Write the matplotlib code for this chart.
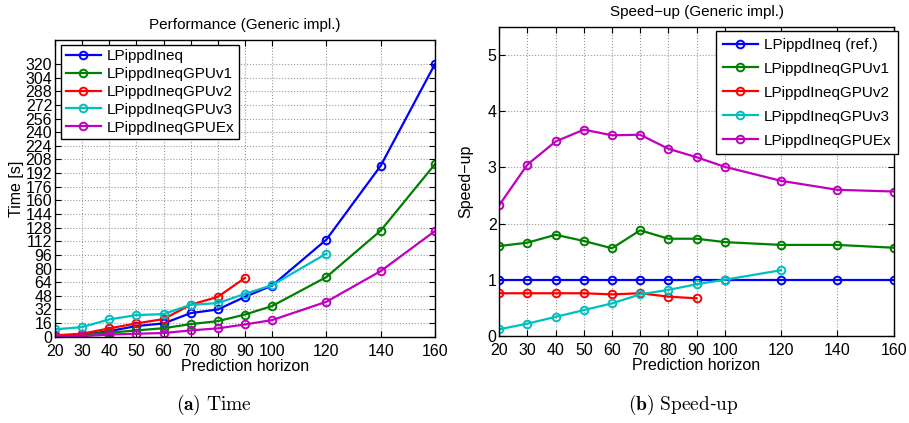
import matplotlib
matplotlib.use("Agg")
import matplotlib.pyplot as plt

plt.rcParams['font.family'] = ['Liberation Sans', 'DejaVu Sans']
plt.rcParams['mathtext.fontset'] = 'cm'

horizon = [20, 30, 40, 50, 60, 70, 80, 90, 100, 120, 140, 160]
x_ticks = [20, 30, 40, 50, 60, 70, 80, 90, 100, 120, 140, 160]
time_ticks = list(range(0, 321, 16))
speed_ticks = [0, 1, 2, 3, 4, 5]

# Time [s]
t_base = [1.0, 2.0, 6.6, 12.5, 15.6, 27.7, 32.0, 46.8, 60.0, 114.0, 200.6, 320.0]
t_v1 = [0.8, 2.7, 4.7, 7.4, 10.0, 14.8, 18.3, 26.0, 36.0, 70.0, 124.5, 202.5]
t_v2 = [1.6, 3.5, 9.8, 15.6, 20.7, 37.5, 46.8, 69.0]
t_v3 = [8.6, 11.3, 20.3, 25.4, 26.5, 37.5, 39.4, 50.3, 60.5, 97.5]
t_ex = [0.4, 0.6, 2.5, 3.5, 4.3, 7.4, 9.8, 14.4, 19.5, 41.0, 77.0, 124.0]

# Speed-up
s_base = [1, 1, 1, 1, 1, 1, 1, 1, 1, 1, 1, 1]
s_v1 = [1.60, 1.66, 1.80, 1.69, 1.56, 1.88, 1.73, 1.73, 1.67, 1.62, 1.62, 1.57]
s_v2 = [0.76, 0.76, 0.76, 0.76, 0.74, 0.76, 0.70, 0.67]
s_v3 = [0.12, 0.22, 0.34, 0.46, 0.58, 0.74, 0.82, 0.92, 1.00, 1.17]
s_ex = [2.33, 3.05, 3.46, 3.67, 3.57, 3.58, 3.33, 3.18, 3.01, 2.76, 2.60, 2.57]

names_time = ['LPippdIneq', 'LPippdIneqGPUv1', 'LPippdIneqGPUv2',
              'LPippdIneqGPUv3', 'LPippdIneqGPUEx']
names_speed = ['LPippdIneq (ref.)', 'LPippdIneqGPUv1', 'LPippdIneqGPUv2',
               'LPippdIneqGPUv3', 'LPippdIneqGPUEx']
colors = ['#0000ff', '#008000', '#ff0000', '#00bfbf', '#bf00bf']

fig = plt.figure(figsize=(9.09, 4.23), dpi=100)
axL = fig.add_axes([0.0605, 0.204, 0.418, 0.701])
axR = fig.add_axes([0.5493, 0.2057, 0.4339, 0.731])

mk = dict(marker='o', markersize=5.5, markerfacecolor='none', markeredgewidth=1.4, linewidth=1.6)

for ys, c, n in zip([t_base, t_v1, t_v2, t_v3, t_ex], colors, names_time):
    axL.plot(horizon[:len(ys)], ys, color=c, label=n, **mk)
for ys, c, n in zip([s_base, s_v1, s_v2, s_v3, s_ex], colors, names_speed):
    axR.plot(horizon[:len(ys)], ys, color=c, label=n, **mk)

for ax in (axL, axR):
    ax.set_xlim(20, 160)
    ax.set_xticks(x_ticks)
    ax.tick_params(direction='in', top=True, right=True, labelsize=11.5, length=4, width=0.8)
    ax.tick_params(axis='x', pad=5)
    ax.tick_params(axis='y', pad=2)
    ax.grid(True, linestyle=':', color='#9a9a9a', linewidth=0.8)
    ax.set_xlabel('Prediction horizon', fontsize=11.5, labelpad=0)
    for s in ax.spines.values():
        s.set_linewidth(1.0)

axL.set_ylim(0, 348)
axL.set_yticks(time_ticks)
axL.set_ylabel('Time [s]', fontsize=11.5, labelpad=1)
axL.set_title('Performance (Generic impl.)', fontsize=11, pad=8)

axR.set_ylim(0, 5.5)
axR.set_yticks(speed_ticks)
axR.set_ylabel('Speed\u2212up', fontsize=11.5, labelpad=10)
axR.set_title('Speed\u2212up (Generic impl.)', fontsize=11, pad=8)

legL = axL.legend(loc='upper left', bbox_to_anchor=(0.0671, 0.8943), bbox_transform=fig.transFigure,
                  borderaxespad=0, fontsize=11, fancybox=False, edgecolor='black', framealpha=1,
                  handlelength=2.3, labelspacing=0.25, borderpad=0.3, handletextpad=0.4)
legL.get_frame().set_linewidth(1.0)
legR = axR.legend(loc='upper left', bbox_to_anchor=(0.7873, 0.9267), bbox_transform=fig.transFigure,
                  borderaxespad=0, fontsize=11, fancybox=False, edgecolor='black', framealpha=1,
                  handlelength=2.3, labelspacing=0.65, borderpad=0.45, handletextpad=0.4)
legR.get_frame().set_linewidth(1.0)

fig.text(0.2354, 0.042, r'$\mathbf{(a)}\ \mathrm{Time}$', ha='center', va='center', fontsize=14)
fig.text(0.7514, 0.042, r'$\mathbf{(b)}\ \mathrm{Speed}$-$\mathrm{up}$', ha='center', va='center', fontsize=14)

fig.savefig('out.png', dpi=100)
